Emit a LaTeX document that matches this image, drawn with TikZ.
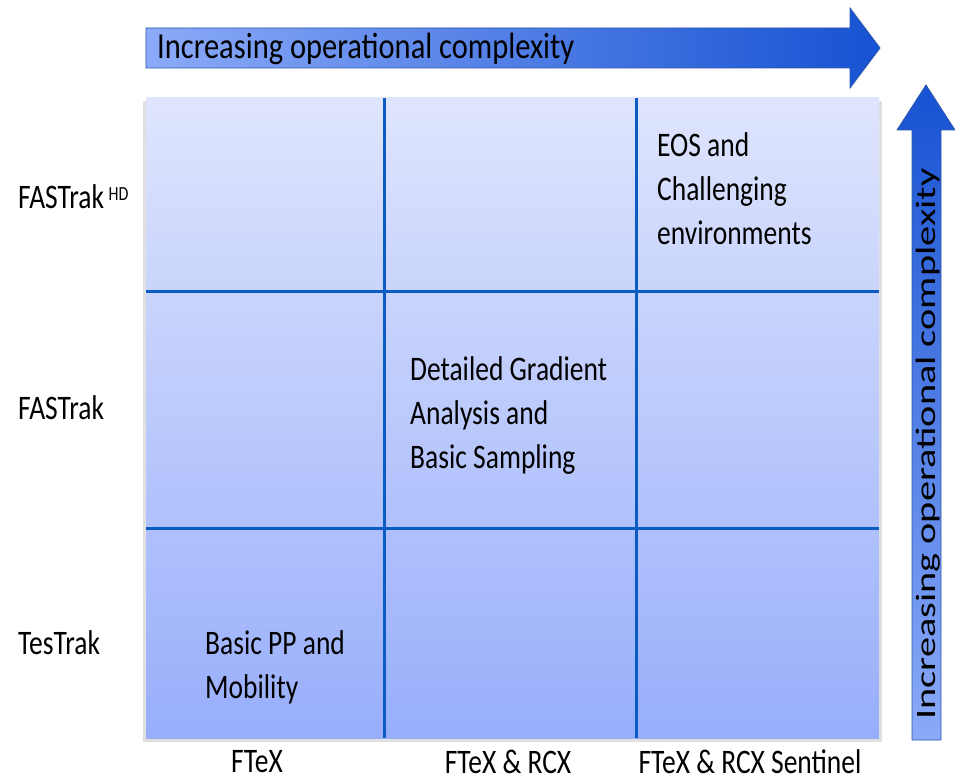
\documentclass[tikz,border=0pt]{standalone}
\usepackage{fontspec}
\setmainfont{Carlito}
\definecolor{gridtop}{HTML}{DFE5FD}
\definecolor{gridbot}{HTML}{98AEFB}
\definecolor{gridline}{HTML}{0B5CC2}
\definecolor{arrlight}{HTML}{8BAAF8}
\definecolor{arrdark}{HTML}{1652D2}
\definecolor{arredge}{HTML}{2B55A8}
\begin{document}
\begin{tikzpicture}[x=1pt,y=-1pt,
  lbl/.style={font=\fontsize{27.5}{35.2}\selectfont, inner sep=0pt, text=black, yscale=1.25, transform shape},
  celltxt/.style={lbl, anchor=north west, align=left},
  rowlbl/.style={lbl, anchor=west},
  collbl/.style={lbl, anchor=center},
  arrtxt/.style={font=\fontsize{30.5}{36}\selectfont, inner sep=0pt, anchor=west, yscale=1.2, transform shape},
  gline/.style={draw=gridline, line width=3pt},
  arrbody/.style={draw=arredge, line width=0.8pt}]
\useasboundingbox (0,0) rectangle (955,783);

% grid background with soft shadow
\fill[black, opacity=0.12] (143,101) rectangle (882,742);
\shade[top color=gridtop, bottom color=gridbot] (146,98) rectangle (879,738);
\draw[gline] (384,98) -- (384,738);
\draw[gline] (636,98) -- (636,738);
\draw[gline] (146,292) -- (879,292);
\draw[gline] (146,528) -- (879,528);

% horizontal arrow
\shade[left color=arrlight, right color=arrdark, arrbody]
  (146,28) -- (850,28) -- (850,8) -- (880,48) -- (850,88) -- (850,68) -- (146,68) -- cycle;
\node[arrtxt] (toptxt) at (157,49) {Increasing operational complexity};

% vertical arrow
\shade[top color=arrdark, bottom color=arrlight, arrbody]
  (912,740) -- (912,130) -- (897,130) -- (926,85) -- (955,130) -- (941,130) -- (941,740) -- cycle;
\node[rotate=90, anchor=west, inner sep=0pt] (sidetxt) at (928,720)
  {\fontsize{28}{32}\selectfont\scalebox{1.44}[1]{Increasing operational complexity}};

% row labels
\node[rowlbl] (rhd) at (18,197) {FASTrak\,\raisebox{6.5pt}{\fontsize{16}{16}\selectfont HD}};
\node[rowlbl] (rfast) at (18,408) {FASTrak};
\node[rowlbl] (rtes) at (18,643) {TesTrak};

% column labels
\node[collbl] (cftex) at (257,762) {FTeX};
\node[collbl] (crcx) at (508,762) {FTeX \& RCX};
\node[collbl] (csent) at (750,762) {FTeX \& RCX Sentinel};

% cell texts
\node[celltxt] (eos) at (657,132) {EOS and\\Challenging\\environments};
\node[celltxt] (grad) at (410,356) {Detailed Gradient\\Analysis and\\Basic Sampling};
\node[celltxt] (basic) at (205,630) {Basic PP and\\Mobility};
\end{tikzpicture}
\end{document}
